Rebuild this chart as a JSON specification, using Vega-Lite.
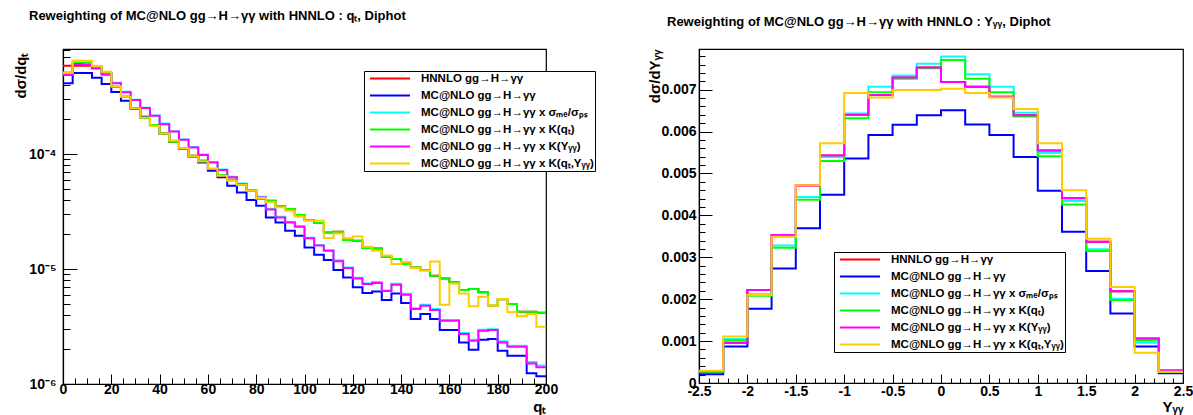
{
  "$schema": "https://vega.github.io/schema/vega-lite/v6.json",
  "background": "white",
  "padding": {"left": 12, "top": 9, "right": 5, "bottom": 5},
  "bounds": "flush",
  "spacing": 153,
  "config": {
    "font": "Liberation Sans",
    "view": {"stroke": "black", "strokeWidth": 1.2},
    "axis": {"grid": false, "domainColor": "black", "domainWidth": 1.2, "tickColor": "black", "tickWidth": 1, "labelColor": "black", "labelFontSize": 14, "labelFontWeight": "bold", "labelFont": "Liberation Sans", "labelFlush": false, "labelOverlap": false, "titleColor": "black", "titleFontWeight": "bold", "titleFont": "Liberation Sans", "titleFontSize": 15},
    "legend": {"orient": "none", "title": null, "symbolType": "M-2,0H2", "symbolSize": 400, "symbolStrokeWidth": 2, "symbolOffset": 14, "labelFontSize": 11.5, "labelFontWeight": "bold", "labelFont": "Liberation Sans", "labelColor": "black", "labelLimit": 400, "strokeColor": "black", "fillColor": "white", "padding": 1, "rowPadding": 4, "clipHeight": 13, "labelOffset": 20},
    "title": {"font": "Liberation Sans", "fontWeight": "bold", "fontSize": 13, "color": "black", "anchor": "start", "frame": "group"}
  },
  "resolve": {"scale": {"color": "independent"}, "legend": {"color": "independent"}},
  "hconcat": [
    {
      "width": 483,
      "height": 335,
      "title": {"text": "Reweighting of MC@NLO gg→H→γγ with HNNLO : qₜ, Diphot", "dx": -34, "offset": 20},
      "data": {"values": [
        {"q":0,"r":5.86e-4,"b":4.12e-4,"c":4.96e-4,"g":5.13e-4,"m":4.86e-4,"o":5.10e-4},
        {"q":4,"r":5.86e-4,"b":5.06e-4,"c":6.14e-4,"g":6.27e-4,"m":6.06e-4,"o":6.48e-4},
        {"q":8,"r":5.86e-4,"b":5.06e-4,"c":6.06e-4,"g":6.27e-4,"m":5.98e-4,"o":6.48e-4},
        {"q":12,"r":5.75e-4,"b":4.61e-4,"c":5.62e-4,"g":5.75e-4,"m":5.56e-4,"o":5.82e-4},
        {"q":16,"r":5.06e-4,"b":4.06e-4,"c":4.96e-4,"g":5.06e-4,"m":4.90e-4,"o":5.20e-4},
        {"q":20,"r":3.85e-4,"b":3.46e-4,"c":4.17e-4,"g":3.85e-4,"m":4.12e-4,"o":3.88e-4},
        {"q":24,"r":3.15e-4,"b":2.91e-4,"c":3.48e-4,"g":3.15e-4,"m":3.44e-4,"o":3.15e-4},
        {"q":28,"r":2.51e-4,"b":2.46e-4,"c":2.97e-4,"g":2.51e-4,"m":2.95e-4,"o":2.49e-4},
        {"q":32,"r":2.06e-4,"b":2.11e-4,"c":2.53e-4,"g":2.06e-4,"m":2.51e-4,"o":2.08e-4},
        {"q":36,"r":1.79e-4,"b":1.79e-4,"c":2.17e-4,"g":1.79e-4,"m":2.15e-4,"o":1.75e-4},
        {"q":40,"r":1.51e-4,"b":1.51e-4,"c":1.84e-4,"g":1.51e-4,"m":1.82e-4,"o":1.51e-4},
        {"q":44,"r":1.28e-4,"b":1.29e-4,"c":1.58e-4,"g":1.28e-4,"m":1.57e-4,"o":1.31e-4},
        {"q":48,"r":1.11e-4,"b":1.11e-4,"c":1.34e-4,"g":1.11e-4,"m":1.33e-4,"o":1.13e-4},
        {"q":52,"r":9.67e-5,"b":9.48e-5,"c":1.15e-4,"g":9.67e-5,"m":1.14e-4,"o":9.54e-5},
        {"q":56,"r":8.75e-5,"b":8.46e-5,"c":9.90e-5,"g":8.75e-5,"m":9.80e-5,"o":8.63e-5},
        {"q":60,"r":7.40e-5,"b":7.16e-5,"c":8.55e-5,"g":7.40e-5,"m":8.46e-5,"o":7.50e-5},
        {"q":64,"r":6.57e-5,"b":6.27e-5,"c":7.35e-5,"g":6.57e-5,"m":7.26e-5,"o":6.48e-5},
        {"q":68,"r":5.98e-5,"b":5.30e-5,"c":6.35e-5,"g":5.98e-5,"m":6.27e-5,"o":5.86e-5},
        {"q":72,"r":5.41e-5,"b":4.64e-5,"c":5.55e-5,"g":5.41e-5,"m":5.48e-5,"o":5.41e-5},
        {"q":76,"r":4.80e-5,"b":3.98e-5,"c":4.86e-5,"g":4.80e-5,"m":4.80e-5,"o":4.80e-5},
        {"q":80,"r":4.06e-5,"b":3.55e-5,"c":4.25e-5,"g":4.06e-5,"m":4.20e-5,"o":4.14e-5},
        {"q":84,"r":3.93e-5,"b":2.81e-5,"c":3.34e-5,"g":3.93e-5,"m":3.30e-5,"o":3.80e-5},
        {"q":88,"r":3.51e-5,"b":2.54e-5,"c":2.85e-5,"g":3.51e-5,"m":2.81e-5,"o":3.44e-5},
        {"q":92,"r":3.32e-5,"b":2.15e-5,"c":2.57e-5,"g":3.32e-5,"m":2.54e-5,"o":3.21e-5},
        {"q":96,"r":2.95e-5,"b":1.95e-5,"c":2.36e-5,"g":2.95e-5,"m":2.33e-5,"o":2.87e-5},
        {"q":100,"r":2.67e-5,"b":1.54e-5,"c":1.87e-5,"g":2.67e-5,"m":1.85e-5,"o":2.63e-5},
        {"q":104,"r":2.51e-5,"b":1.33e-5,"c":1.62e-5,"g":2.51e-5,"m":1.60e-5,"o":2.63e-5},
        {"q":108,"r":2.08e-5,"b":1.20e-5,"c":1.46e-5,"g":2.08e-5,"m":1.44e-5,"o":1.86e-5},
        {"q":112,"r":2.11e-5,"b":9.80e-6,"c":1.19e-5,"g":2.11e-5,"m":1.17e-5,"o":2.04e-5},
        {"q":116,"r":1.79e-5,"b":8.46e-6,"c":1.03e-5,"g":1.79e-5,"m":1.02e-5,"o":1.85e-5},
        {"q":120,"r":1.76e-5,"b":6.93e-6,"c":8.40e-6,"g":1.76e-5,"m":8.29e-6,"o":1.92e-5},
        {"q":124,"r":1.52e-5,"b":6.18e-6,"c":7.50e-6,"g":1.52e-5,"m":7.40e-6,"o":1.56e-5},
        {"q":128,"r":1.51e-5,"b":6.39e-6,"c":7.70e-6,"g":1.51e-5,"m":7.55e-6,"o":1.44e-5},
        {"q":132,"r":1.28e-5,"b":5.38e-6,"c":6.50e-6,"g":1.28e-5,"m":6.43e-6,"o":1.31e-5},
        {"q":136,"r":1.22e-5,"b":6.14e-6,"c":7.45e-6,"g":1.22e-5,"m":7.30e-6,"o":1.105e-5},
        {"q":140,"r":1.105e-5,"b":5.06e-6,"c":6.10e-6,"g":1.105e-5,"m":5.98e-6,"o":1.15e-5},
        {"q":144,"r":1.03e-5,"b":3.67e-6,"c":4.55e-6,"g":1.03e-5,"m":4.49e-6,"o":1.02e-5},
        {"q":148,"r":9.80e-6,"b":4.06e-6,"c":4.90e-6,"g":9.80e-6,"m":4.80e-6,"o":9.67e-6},
        {"q":152,"r":8.75e-6,"b":3.67e-6,"c":4.50e-6,"g":8.75e-6,"m":4.40e-6,"o":1.16e-5},
        {"q":156,"r":8.29e-6,"b":2.95e-6,"c":3.60e-6,"g":8.29e-6,"m":3.55e-6,"o":4.90e-6},
        {"q":160,"r":7.66e-6,"b":2.95e-6,"c":3.60e-6,"g":7.66e-6,"m":3.55e-6,"o":7.50e-6},
        {"q":164,"r":6.57e-6,"b":2.30e-6,"c":2.78e-6,"g":6.57e-6,"m":2.72e-6,"o":6.14e-6},
        {"q":168,"r":6.70e-6,"b":1.99e-6,"c":2.43e-6,"g":6.70e-6,"m":2.38e-6,"o":4.74e-6},
        {"q":172,"r":6.27e-6,"b":2.43e-6,"c":2.97e-6,"g":6.27e-6,"m":2.91e-6,"o":5.75e-6},
        {"q":176,"r":4.80e-6,"b":2.46e-6,"c":3.00e-6,"g":4.80e-6,"m":2.95e-6,"o":4.80e-6},
        {"q":180,"r":5.45e-6,"b":1.95e-6,"c":2.35e-6,"g":5.45e-6,"m":2.30e-6,"o":5.48e-6},
        {"q":184,"r":4.96e-6,"b":1.76e-6,"c":2.15e-6,"g":4.96e-6,"m":2.11e-6,"o":4.20e-6},
        {"q":188,"r":4.26e-6,"b":1.76e-6,"c":2.15e-6,"g":4.26e-6,"m":2.11e-6,"o":3.88e-6},
        {"q":192,"r":4.26e-6,"b":1.24e-6,"c":1.55e-6,"g":4.26e-6,"m":1.51e-6,"o":4.06e-6},
        {"q":196,"r":4.17e-6,"b":1.17e-6,"c":1.45e-6,"g":4.17e-6,"m":1.40e-6,"o":3.15e-6},
        {"q":200,"r":4.17e-6,"b":1.17e-6,"c":1.45e-6,"g":4.17e-6,"m":1.40e-6,"o":3.15e-6}
      ]},
      "transform": [{"fold": ["r", "b", "c", "g", "m", "o"], "as": ["s", "v"]}],
      "mark": {"type": "line", "interpolate": "step-after", "strokeWidth": 2, "clip": true},
      "encoding": {
        "x": {"field": "q", "type": "quantitative",
          "scale": {"domain": [0, 200], "nice": false, "zero": false},
          "axis": {
            "values": [0,5,10,15,20,25,30,35,40,45,50,55,60,65,70,75,80,85,90,95,100,105,110,115,120,125,130,135,140,145,150,155,160,165,170,175,180,185,190,195,200],
            "labelExpr": "datum.value % 20 == 0 ? '' + datum.value : ''",
            "tickSize": {"condition": {"test": "datum.value % 20 == 0", "value": -10}, "value": -6},
            "labelPadding": 8,
            "title": "qₜ", "titleX": 483, "titleY": 27, "titleAlign": "right", "titleBaseline": "alphabetic"
          }
        },
        "y": {"field": "v", "type": "quantitative",
          "scale": {"type": "log", "domain": [1e-6, 8.2e-4], "nice": false},
          "axis": {
            "values": [1e-6,2e-6,3e-6,4e-6,5e-6,6e-6,7e-6,8e-6,9e-6,1e-5,2e-5,3e-5,4e-5,5e-5,6e-5,7e-5,8e-5,9e-5,1e-4,2e-4,3e-4,4e-4,5e-4,6e-4,7e-4,8e-4],
            "labelExpr": "datum.value == 1e-4 ? '10⁻⁴' : datum.value == 1e-5 ? '10⁻⁵' : datum.value == 1e-6 ? '10⁻⁶' : ''",
            "tickSize": {"condition": {"test": "datum.value == 1e-6 || datum.value == 1e-5 || datum.value == 1e-4", "value": -14}, "value": -7},
            "labelPadding": 21,
            "title": "dσ/dqₜ", "titleX": -38, "titleY": 3, "titleAlign": "right", "titleBaseline": "alphabetic", "titleAngle": 270
          }
        },
        "color": {"field": "s", "type": "nominal",
          "scale": {"domain": ["r", "b", "c", "g", "m", "o"], "range": ["#ff0000", "#0000ff", "#00ffff", "#00ff00", "#ff00ff", "#ffcc00"]},
          "legend": {"legendX": 301, "legendY": 22,
            "labelExpr": "datum.value == 'r' ? 'HNNLO gg→H→γγ' : datum.value == 'b' ? 'MC@NLO gg→H→γγ' : datum.value == 'c' ? 'MC@NLO gg→H→γγ x σₘₑ/σₚₛ' : datum.value == 'g' ? 'MC@NLO gg→H→γγ x K(qₜ)' : datum.value == 'm' ? 'MC@NLO gg→H→γγ x K(Yᵧᵧ)' : 'MC@NLO gg→H→γγ x K(qₜ,Yᵧᵧ)'"}
        }
      }
    },
    {
      "width": 484,
      "height": 334,
      "title": {"text": "Reweighting of MC@NLO gg→H→γγ with HNNLO : Yᵧᵧ, Diphot", "dx": -32, "offset": 20},
      "data": {"values": [
        {"Y":-2.5,"r":0.00028,"b":0.00021,"c":0.00027,"g":0.00026,"m":0.00028,"o":0.00029},
        {"Y":-2.25,"r":0.00096,"b":0.00087,"c":0.00105,"g":0.00102,"m":0.00096,"o":0.00111},
        {"Y":-2.0,"r":0.00222,"b":0.00177,"c":0.00212,"g":0.00208,"m":0.00222,"o":0.00210},
        {"Y":-1.75,"r":0.00353,"b":0.00273,"c":0.00328,"g":0.00323,"m":0.00353,"o":0.00349},
        {"Y":-1.5,"r":0.00471,"b":0.00369,"c":0.00444,"g":0.00437,"m":0.00471,"o":0.00472},
        {"Y":-1.25,"r":0.00543,"b":0.00449,"c":0.00539,"g":0.00530,"m":0.00543,"o":0.00572},
        {"Y":-1.0,"r":0.00640,"b":0.00536,"c":0.00643,"g":0.00632,"m":0.00640,"o":0.00692},
        {"Y":-0.75,"r":0.00687,"b":0.00592,"c":0.00707,"g":0.00694,"m":0.00687,"o":0.00681},
        {"Y":-0.5,"r":0.00729,"b":0.00616,"c":0.00734,"g":0.00726,"m":0.00729,"o":0.00699},
        {"Y":-0.25,"r":0.00753,"b":0.00639,"c":0.00762,"g":0.00751,"m":0.00753,"o":0.00699},
        {"Y":0.0,"r":0.00718,"b":0.00651,"c":0.00779,"g":0.00771,"m":0.00718,"o":0.00702},
        {"Y":0.25,"r":0.00707,"b":0.00617,"c":0.00737,"g":0.00726,"m":0.00707,"o":0.00692},
        {"Y":0.5,"r":0.00683,"b":0.00592,"c":0.00707,"g":0.00694,"m":0.00683,"o":0.00681},
        {"Y":0.75,"r":0.00639,"b":0.00539,"c":0.00645,"g":0.00636,"m":0.00639,"o":0.00654},
        {"Y":1.0,"r":0.00555,"b":0.00459,"c":0.00549,"g":0.00541,"m":0.00555,"o":0.00572},
        {"Y":1.25,"r":0.00441,"b":0.00361,"c":0.00434,"g":0.00426,"m":0.00441,"o":0.00460},
        {"Y":1.5,"r":0.00337,"b":0.00267,"c":0.00319,"g":0.00315,"m":0.00337,"o":0.00344},
        {"Y":1.75,"r":0.00219,"b":0.00166,"c":0.00201,"g":0.00198,"m":0.00219,"o":0.00229},
        {"Y":2.0,"r":0.00106,"b":0.00087,"c":0.00096,"g":0.00102,"m":0.00106,"o":0.00072},
        {"Y":2.25,"r":0.00030,"b":0.00023,"c":0.00028,"g":0.00027,"m":0.00030,"o":0.00027},
        {"Y":2.5,"r":0.00030,"b":0.00023,"c":0.00028,"g":0.00027,"m":0.00030,"o":0.00027}
      ]},
      "transform": [{"fold": ["r", "b", "c", "g", "m", "o"], "as": ["s", "v"]}],
      "mark": {"type": "line", "interpolate": "step-after", "strokeWidth": 2, "clip": true},
      "encoding": {
        "x": {"field": "Y", "type": "quantitative",
          "scale": {"domain": [-2.5, 2.5], "nice": false, "zero": false},
          "axis": {
            "values": [-2.5,-2.4,-2.3,-2.2,-2.1,-2.0,-1.9,-1.8,-1.7,-1.6,-1.5,-1.4,-1.3,-1.2,-1.1,-1.0,-0.9,-0.8,-0.7,-0.6,-0.5,-0.4,-0.3,-0.2,-0.1,0,0.1,0.2,0.3,0.4,0.5,0.6,0.7,0.8,0.9,1.0,1.1,1.2,1.3,1.4,1.5,1.6,1.7,1.8,1.9,2.0,2.1,2.2,2.3,2.4,2.5],
            "labelExpr": "round(datum.value*10) % 5 == 0 ? '' + round(datum.value*10)/10 : ''",
            "tickSize": {"condition": {"test": "round(datum.value*10) % 5 == 0", "value": -9}, "value": -5},
            "labelPadding": 10,
            "title": "Yᵧᵧ", "titleX": 484, "titleY": 28, "titleAlign": "right", "titleBaseline": "alphabetic"
          }
        },
        "y": {"field": "v", "type": "quantitative",
          "scale": {"domain": [0, 0.00797], "nice": false, "zero": false},
          "axis": {
            "values": [0,0.0002,0.0004,0.0006,0.0008,0.001,0.0012,0.0014,0.0016,0.0018,0.002,0.0022,0.0024,0.0026,0.0028,0.003,0.0032,0.0034,0.0036,0.0038,0.004,0.0042,0.0044,0.0046,0.0048,0.005,0.0052,0.0054,0.0056,0.0058,0.006,0.0062,0.0064,0.0066,0.0068,0.007,0.0072,0.0074,0.0076,0.0078],
            "labelExpr": "round(datum.value*10000) % 10 == 0 ? (datum.value == 0 ? '0' : format(datum.value, '.3f')) : ''",
            "tickSize": {"condition": {"test": "round(datum.value*10000) % 10 == 0", "value": -13}, "value": -6},
            "labelPadding": 16,
            "title": "dσ/dYᵧᵧ", "titleX": -40, "titleY": 0, "titleAlign": "right", "titleBaseline": "alphabetic", "titleAngle": 270
          }
        },
        "color": {"field": "s", "type": "nominal",
          "scale": {"domain": ["r", "b", "c", "g", "m", "o"], "range": ["#ff0000", "#0000ff", "#00ffff", "#00ff00", "#ff00ff", "#ffcc00"]},
          "legend": {"legendX": 135, "legendY": 203,
            "labelExpr": "datum.value == 'r' ? 'HNNLO gg→H→γγ' : datum.value == 'b' ? 'MC@NLO gg→H→γγ' : datum.value == 'c' ? 'MC@NLO gg→H→γγ x σₘₑ/σₚₛ' : datum.value == 'g' ? 'MC@NLO gg→H→γγ x K(qₜ)' : datum.value == 'm' ? 'MC@NLO gg→H→γγ x K(Yᵧᵧ)' : 'MC@NLO gg→H→γγ x K(qₜ,Yᵧᵧ)'"}
        }
      }
    }
  ]
}
